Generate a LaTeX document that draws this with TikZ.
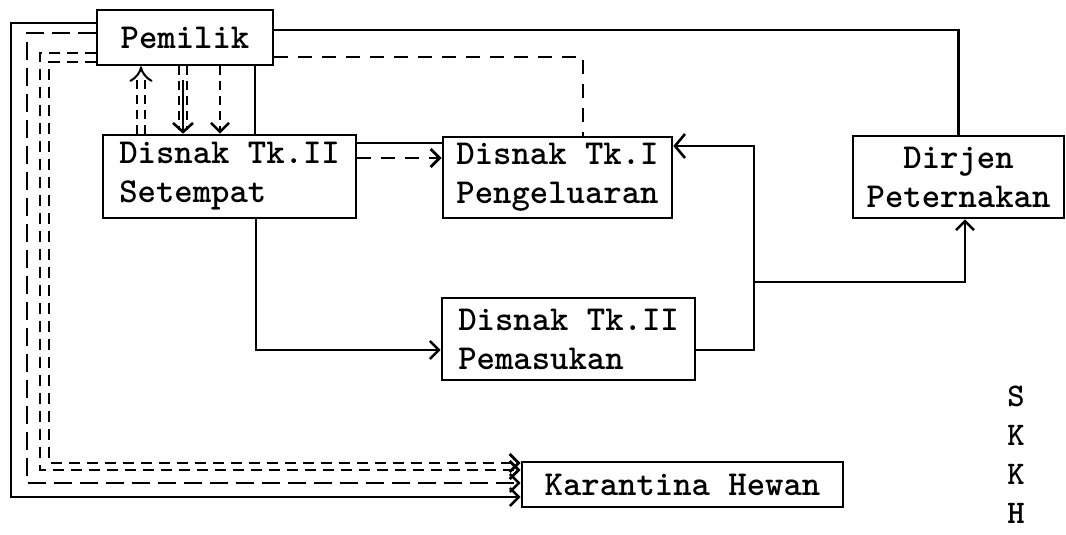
\documentclass[tikz,border=0pt]{standalone}
\usepackage{fontspec}
\usetikzlibrary{arrows.meta}
\begin{document}
\begin{tikzpicture}[x=1pt,y=-1pt,
  tw/.style={font=\ttfamily\bfseries\fontsize{35}{39}\selectfont},
  box/.style={draw, line width=2.6pt, inner sep=0pt, tw},
  ln/.style={line width=2.6pt},
  arr/.style={-{Straight Barb[length=9pt,width=18pt]}},
  dshA/.style={line width=2.8pt, dash pattern=on 14pt off 10pt},
  dshL/.style={line width=2.6pt, dash pattern=on 18pt off 8pt},
  dshS/.style={line width=2.8pt, dash pattern=on 11pt off 7pt},
  dshV/.style={line width=2.6pt, dash pattern=on 9pt off 6pt},
  dblV/.style={double, double distance=6pt, line width=2pt, dash pattern=on 9pt off 6pt},
]
\useasboundingbox (0,0) rectangle (1066,535);
\fill[white] (0,0) rectangle (1066,535);

% boxes
\node[box, minimum width=176pt, minimum height=55pt] (pem) at (185,37.5) {Pemilik};
\node[box, minimum width=253pt, minimum height=83pt, align=left] (set) at (229.5,176.5) {Disnak Tk.II\\Setempat};
\node[box, minimum width=229pt, minimum height=81pt, align=left] (tk1) at (557.5,177.5) {Disnak Tk.I\\Pengeluaran};
\node[box, minimum width=211pt, minimum height=82pt, align=center] (dir) at (958.5,177) {Dirjen\\Peternakan};
\node[box, minimum width=253pt, minimum height=82pt, align=left] (pms) at (568.5,339) {Disnak Tk.II\\Pemasukan};
\node[box, minimum width=321pt, minimum height=45pt] (kar) at (682.5,484.5) {\addfontfeature{LetterSpace=4.8}Karantina Hewan};
\node[font=\ttfamily\bfseries\fontsize{33}{39}\selectfont, align=center, inner sep=0pt] (skkh) at (1016,455) {S\\K\\K\\H};

% top connectors
\draw[ln] (pem.east |- 0,30) -| (dir.north);
\draw[dshA] (pem.east |- 0,57) -| (tk1.north -| 583,0);

% Pemilik - Setempat
\draw[ln] (pem.south -| 255,0) -- (set.north -| 255,0);
\draw[dblV, -{Implies}] (set.north -| 141,0) -- (pem.south -| 141,0);
\draw[dblV] (pem.south -| 183,0) -- ([yshift=4pt]set.north -| 183,0);
\draw[ln, -{Straight Barb[length=9pt,width=20pt]}] ([yshift=-14pt]pem.south -| 183,0) -- (set.north -| 183,0);
\draw[dshV, arr] (pem.south -| 220,0) -- (set.north -| 220,0);

% Setempat - Tk.I
\draw[ln] (set.east |- 0,143) -- (tk1.west |- 0,143);
\draw[dshA, arr] (set.east |- 0,158) -- (tk1.west |- 0,158);

% Setempat - Pemasukan
\draw[ln, arr] (set.south -| 256,0) |- (pms.west |- 0,350);

% Pemasukan - Tk.I and Dirjen
\coordinate (j) at (754,282);
\draw[ln, -{Straight Barb[length=10pt,width=24pt]}] (pms.east |- 0,350) -| (j) |- (tk1.east |- 0,146);
\draw[ln, arr] (j) -| (dir.south -| 965,0);

% left loops to Karantina
\draw[ln, arr] (pem.west |- 0,23) -| (11,497) -- (kar.west |- 0,497);
\draw[dshL, arr] (pem.west |- 0,33) -| (27,483) -- (kar.west |- 0,483);
\draw[dshS, arr] (pem.west |- 0,53) -| (40,470) -- (kar.west |- 0,470);
\draw[dshS, arr] (pem.west |- 0,62) -| (49,463) -- (kar.west |- 0,463);
\end{tikzpicture}
\end{document}
